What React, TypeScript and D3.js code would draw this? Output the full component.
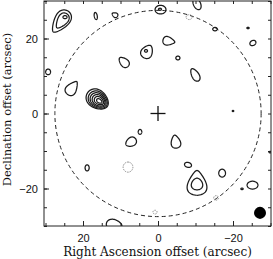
import { useEffect, useRef } from 'react';
import * as d3 from 'd3';

// Ring = [x, y, rx, ry, tail angle (deg, screen), pinch]; all in arcsec
type Ring = [number, number, number, number, number, number];

const RA_DOMAIN = [30.4, -30.13];
const DEC_DOMAIN = [30, -30];
const MINOR_TICKS = [-30, -25, -20, -15, -10, -5, 0, 5, 10, 15, 20, 25, 30];
const MAJOR_TICKS = [20, 0, -20];

// positive contour groups (nested levels, outer first)
const positiveContours: Ring[][] = [
  [[25.9, 24.5, 3.4, 1.9, 126, 0.4], [25.6, 24.7, 2.3, 1.3, 126, 0.4], [24.8, 25.7, 0.55, 0.4, 0, 0]],
  [[16.6, 26.0, 0.95, 0.4, 80, 0]],
  [[11.5, 26.3, 0.8, 0.6, 210, 0.4]],
  [[29.3, 11.1, 0.75, 0.65, 90, 0]],
  [[9.1, 13.7, 1.6, 1.05, 225, 0.3]],
  [[22.9, 6.8, 2.1, 1.3, -54, 0.5]],
  [
    [16.13, 3.73, 3.2, 2.4, 35, 0.15],
    [16.0, 3.6, 2.75, 2.05, 35, 0.15],
    [15.92, 3.52, 2.3, 1.7, 35, 0.15],
    [15.81, 3.44, 1.85, 1.35, 35, 0.15],
    [15.73, 3.39, 1.35, 0.95, 35, 0.15],
    [15.65, 3.33, 0.8, 0.5, 35, 0.1],
  ],
  [[-10.4, 29.2, 1.6, 0.95, 65, 0]],
  [[-0.67, 27.7, 1.45, 1.15, 0, 0], [-0.53, 27.8, 0.4, 0.27, 0, 0]],
  [[-15.2, 22.5, 0.6, 0.45, 0, 0]],
  [[-24.0, 22.8, 0.3, 0.2, 0, 0]],
  [[-25.3, 18.8, 0.85, 0.65, -30, 0]],
  [[-2.9, 19.3, 1.6, 1.05, 10, 0.5]],
  [[2.9, 16.5, 1.85, 1.45, -60, 0.3], [3.2, 16.7, 0.4, 0.35, 0, 0]],
  [[-5.3, 14.8, 0.55, 0.5, 0, 0]],
  [[-9.9, 10.3, 1.85, 0.95, 240, 0.2]],
  [[-20.0, 0.67, 0.2, 0.15, 0, 0]],
  [[4.8, -4.9, 0.65, 0.48, 90, 0]],
  [[7.2, -7.6, 1.5, 1.15, 150, 0.2]],
  [[18.9, -14.5, 0.8, 0.55, 90, 0]],
  [[-4.7, -7.5, 1.75, 1.2, -100, 0.4]],
  [[-8.0, -13.7, 0.95, 0.65, 15, 0]],
  [[-10.4, -18.5, 3.3, 2.4, -90, 0.5], [-10.4, -18.8, 1.55, 1.5, -90, 0.2]],
  [[-17.1, -15.9, 1.05, 0.9, 90, 0]],
  [[-22.4, -20.1, 0.3, 0.2, 0, 0]],
  [[-25.2, -19.1, 1.45, 1.05, 0, 0]],
  [[11.7, -29.7, 2.1, 1.4, 10, 0.2]],
  [[-29.9, -10.3, 0.3, 0.2, 0, 0]],
];

// negative contours (dashed)
const negativeContours: Ring[] = [
  [-8.3, 25.7, 0.8, 0.65, 0, 0],
  [8.0, -14.3, 1.35, 1.3, 90, 0],
  [-15.5, -22.5, 0.65, 0.6, 0, 0],
  [0.8, -26.3, 0.55, 0.5, 0, 0],
];

const PRIMARY_BEAM_RADIUS = 27.5;
const BEAM = { x: -27.2, y: -26.5, r: 1.6 };
const CROSS_HALF = 2;

const ringPoints = ([cx, cy, rx, ry, tail, k]: Ring): [number, number][] => {
  const a = ((tail + 180) * Math.PI) / 180;
  return d3.range(60).map((i) => {
    const t = (i / 60) * 2 * Math.PI;
    const u = rx * Math.cos(t);
    const v = ry * Math.sin(t) * (1 + k * Math.cos(t));
    const sx = u * Math.cos(a) - v * Math.sin(a);
    const sy = u * Math.sin(a) + v * Math.cos(a);
    return [cx - sx, cy - sy];
  });
};

const App = () => {
  const ref = useRef<SVGSVGElement>(null);

  useEffect(() => {
    const width = 273;
    const height = 259;
    const margin = { top: 1, right: 2, bottom: 33, left: 44 };

    const svg = d3.select(ref.current);
    svg.selectAll('*').remove();

    const x = d3.scaleLinear().domain(RA_DOMAIN).range([margin.left, width - margin.right]);
    const y = d3.scaleLinear().domain(DEC_DOMAIN).range([margin.top, height - margin.bottom]);
    const [x0, x1] = x.range();
    const [y0, y1] = y.range();

    svg.append('clipPath').attr('id', 'plot-clip')
      .append('rect').attr('x', x0).attr('y', y0).attr('width', x1 - x0).attr('height', y1 - y0);

    const plot = svg.append('g').attr('clip-path', 'url(#plot-clip)');

    // primary beam circle
    plot.append('ellipse')
      .attr('cx', x(0)).attr('cy', y(0))
      .attr('rx', Math.abs(x(PRIMARY_BEAM_RADIUS) - x(0)))
      .attr('ry', Math.abs(y(PRIMARY_BEAM_RADIUS) - y(0)))
      .attr('fill', 'none')
      .attr('stroke', '#222')
      .attr('stroke-width', 1)
      .attr('stroke-dasharray', '4,3');

    const line = d3.line<[number, number]>()
      .x((d) => x(d[0]))
      .y((d) => y(d[1]))
      .curve(d3.curveLinearClosed);

    positiveContours.forEach((group) => {
      group.forEach((ring) => {
        plot.append('path')
          .attr('d', line(ringPoints(ring)))
          .attr('fill', 'none')
          .attr('stroke', '#1a1a1a')
          .attr('stroke-width', 1.25);
      });
    });

    negativeContours.forEach((ring) => {
      plot.append('path')
        .attr('d', line(ringPoints(ring)))
        .attr('fill', 'none')
        .attr('stroke', '#888')
        .attr('stroke-width', 1)
        .attr('stroke-dasharray', '1.5,1');
    });

    // pointing centre
    plot.append('line')
      .attr('x1', x(CROSS_HALF)).attr('x2', x(-CROSS_HALF))
      .attr('y1', y(0)).attr('y2', y(0))
      .attr('stroke', '#111').attr('stroke-width', 1.3);
    plot.append('line')
      .attr('x1', x(0)).attr('x2', x(0))
      .attr('y1', y(CROSS_HALF)).attr('y2', y(-CROSS_HALF))
      .attr('stroke', '#111').attr('stroke-width', 1.3);

    // synthesized beam
    plot.append('circle')
      .attr('cx', x(BEAM.x)).attr('cy', y(BEAM.y))
      .attr('r', Math.abs(x(BEAM.r) - x(0)))
      .attr('fill', '#000');

    // axes: minor ticks on all sides, labelled majors on left / bottom
    const styleAxis = (g) => {
      g.select('.domain').remove();
      g.selectAll('line').attr('stroke', '#222');
      g.selectAll('text')
        .attr('fill', '#111')
        .style('font-family', '"Liberation Sans", Arial, sans-serif')
        .style('font-size', '11px');
    };

    svg.append('g').attr('transform', `translate(0,${y1})`)
      .call(d3.axisBottom(x).tickValues(MINOR_TICKS).tickSize(-3).tickFormat(() => ''))
      .call(styleAxis);
    svg.append('g').attr('transform', `translate(0,${y1})`)
      .call(d3.axisBottom(x).tickValues(MAJOR_TICKS).tickSize(-5).tickPadding(8))
      .call(styleAxis);
    svg.append('g').attr('transform', `translate(0,${y0})`)
      .call(d3.axisTop(x).tickValues(MINOR_TICKS).tickSize(-3).tickFormat(() => ''))
      .call(styleAxis);

    svg.append('g').attr('transform', `translate(${x0},0)`)
      .call(d3.axisLeft(y).tickValues(MINOR_TICKS).tickSize(-3).tickFormat(() => ''))
      .call(styleAxis);
    svg.append('g').attr('transform', `translate(${x0},0)`)
      .call(d3.axisLeft(y).tickValues(MAJOR_TICKS).tickSize(-5).tickPadding(6))
      .call(styleAxis);
    svg.append('g').attr('transform', `translate(${x1},0)`)
      .call(d3.axisRight(y).tickValues(MINOR_TICKS).tickSize(-3).tickFormat(() => ''))
      .call(styleAxis);

    // frame
    svg.append('rect')
      .attr('x', x0).attr('y', y0)
      .attr('width', x1 - x0).attr('height', y1 - y0)
      .attr('fill', 'none')
      .attr('stroke', '#222')
      .attr('stroke-width', 1);

    // axis titles
    svg.append('text')
      .attr('x', (x0 + x1) / 2)
      .attr('y', 256)
      .attr('text-anchor', 'middle')
      .style('font-family', '"DejaVu Serif", serif')
      .style('font-size', '12px')
      .attr('fill', '#111')
      .text('Right Ascension offset (arcsec)');

    svg.append('text')
      .attr('transform', `translate(11,${(y0 + y1) / 2 - 4}) rotate(-90)`)
      .attr('text-anchor', 'middle')
      .style('font-family', '"DejaVu Serif", serif')
      .style('font-size', '11.5px')
      .attr('fill', '#111')
      .text('Declination offset (arcsec)');
  }, []);

  return (
    <svg
      ref={ref}
      width={273}
      height={259}
      style={{ position: 'absolute', left: 0, top: 0, background: '#fff' }}
    />
  );
};

export default App;
